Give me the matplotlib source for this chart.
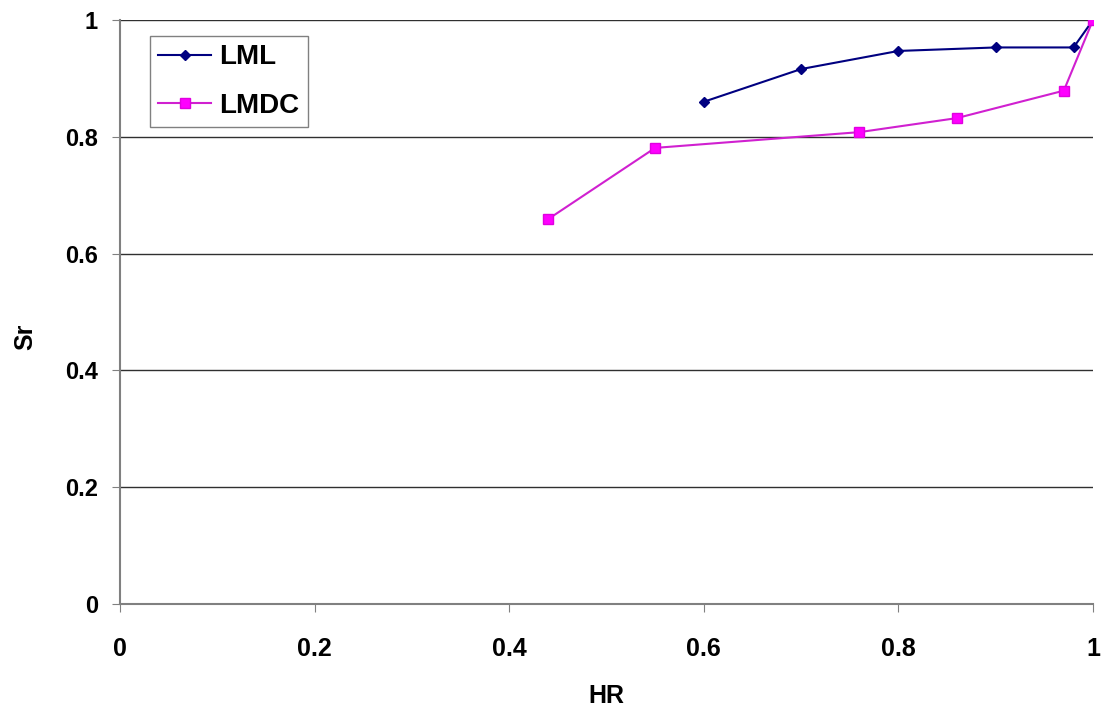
import matplotlib.pyplot as plt

# значения
hr_lml = [0.60, 0.70, 0.80, 0.90, 0.98, 1.00]
sr_lml = [0.860, 0.916, 0.947, 0.953, 0.953, 1.00]
hr_lmdc = [0.44, 0.55, 0.76, 0.86, 0.97, 1.00]
sr_lmdc = [0.659, 0.781, 0.808, 0.832, 0.879, 1.00]
ticks = [0, 0.2, 0.4, 0.6, 0.8, 1]
tick_labels = ['0', '0.2', '0.4', '0.6', '0.8', '1']

plt.rcParams['font.family'] = ['Liberation Sans', 'DejaVu Sans']

fig = plt.figure(figsize=(11.03, 7.07), dpi=100)
ax = fig.add_axes([120/1103, 1 - 604/707, 973/1103, 584/707])

ax.plot(hr_lml, sr_lml, c='#000080', lw=1.5, marker='D', ms=5, label='LML')
ax.plot(hr_lmdc, sr_lmdc, c='#d020d0', lw=1.5, marker='s', ms=7,
        mfc='#ff00ff', mec='#e000e0', label='LMDC')

ax.set_xlim(0, 1)
ax.set_ylim(0, 1)
ax.set_xticks(ticks)
ax.set_xticklabels(tick_labels, fontsize=18, fontweight='bold')
ax.set_yticks(ticks)
ax.set_yticklabels(tick_labels, fontsize=17, fontweight='bold')
ax.tick_params(axis='both', length=6, color='#808080')
ax.tick_params(axis='x', pad=18)
ax.tick_params(axis='y', pad=10)
ax.yaxis.grid(True, color='#303030', lw=1)
ax.set_axisbelow(True)
for s in ['top', 'right']:
    ax.spines[s].set_visible(False)
for s in ['left', 'bottom']:
    ax.spines[s].set_color('#808080')
    ax.spines[s].set_linewidth(1.5)

ax.set_xlabel('HR', fontsize=18, fontweight='bold', labelpad=16)
ax.set_ylabel('Sr', fontsize=18, fontweight='bold')
ax.yaxis.set_label_coords(-0.085, 0.457)

leg = ax.legend(loc='upper left', bbox_to_anchor=(30/973, 1 - 16/584),
                borderaxespad=0, fancybox=False, edgecolor='#606060',
                prop={'weight': 'bold', 'size': 20}, handlelength=1.9,
                handletextpad=0.3, borderpad=0.3, labelspacing=0.8)
leg.get_frame().set_linewidth(1)

fig.savefig('out.png', dpi=100)
